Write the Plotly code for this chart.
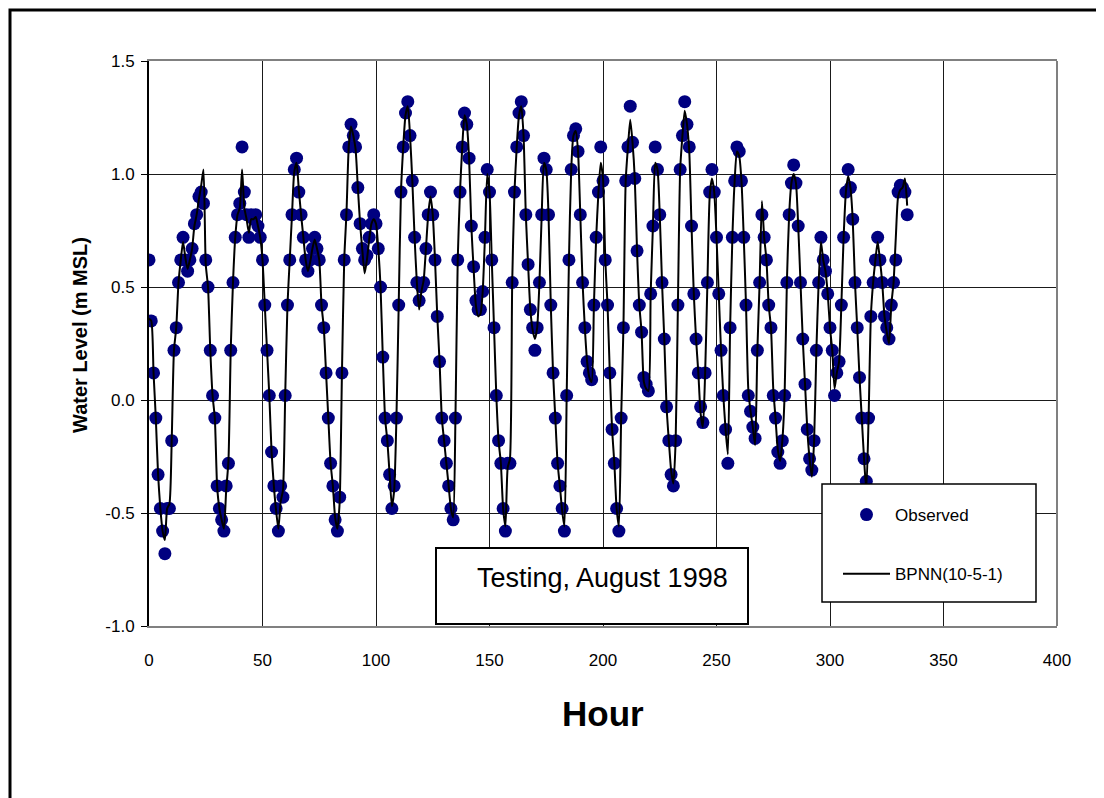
import plotly.graph_objects as go

# ---------------- data ----------------
hours = list(range(0, 335))

observed = [
    0.62, 0.35, 0.12, -0.08, -0.33, -0.48, -0.58, -0.68, -0.48, -0.48,
    -0.18, 0.22, 0.32, 0.52, 0.62, 0.72, 0.62, 0.57, 0.62, 0.67,
    0.78, 0.82, 0.90, 0.92, 0.87, 0.62, 0.50, 0.22, 0.02, -0.08,
    -0.38, -0.48, -0.53, -0.58, -0.38, -0.28, 0.22, 0.52, 0.72, 0.82,
    0.87, 1.12, 0.92, 0.82, 0.72, 0.82, 0.80, 0.82, 0.77, 0.72,
    0.62, 0.42, 0.22, 0.02, -0.23, -0.38, -0.48, -0.58, -0.38, -0.43,
    0.02, 0.42, 0.62, 0.82, 1.02, 1.07, 0.92, 0.82, 0.72, 0.62,
    0.57, 0.62, 0.67, 0.72, 0.67, 0.62, 0.42, 0.32, 0.12, -0.08,
    -0.28, -0.38, -0.53, -0.58, -0.43, 0.12, 0.62, 0.82, 1.12, 1.22,
    1.17, 1.12, 0.94, 0.78, 0.67, 0.62, 0.64, 0.72, 0.78, 0.82,
    0.78, 0.67, 0.50, 0.19, -0.08, -0.18, -0.33, -0.48, -0.38, -0.08,
    0.42, 0.92, 1.12, 1.27, 1.32, 1.17, 0.97, 0.72, 0.52, 0.44,
    0.50, 0.52, 0.67, 0.82, 0.92, 0.82, 0.62, 0.37, 0.17, -0.08,
    -0.18, -0.28, -0.38, -0.48, -0.53, -0.08, 0.62, 0.92, 1.12, 1.27,
    1.22, 1.07, 0.77, 0.59, 0.44, 0.40, 0.40, 0.48, 0.72, 1.02,
    0.92, 0.62, 0.32, 0.02, -0.18, -0.28, -0.48, -0.58, -0.28, -0.28,
    0.52, 0.92, 1.12, 1.27, 1.32, 1.17, 0.82, 0.60, 0.40, 0.32,
    0.22, 0.32, 0.52, 0.82, 1.07, 1.02, 0.82, 0.42, 0.12, -0.08,
    -0.28, -0.38, -0.48, -0.58, 0.02, 0.62, 1.02, 1.17, 1.20, 1.10,
    0.82, 0.52, 0.32, 0.17, 0.12, 0.09, 0.42, 0.72, 0.92, 1.12,
    0.97, 0.62, 0.42, 0.12, -0.13, -0.28, -0.48, -0.58, -0.08, 0.32,
    0.97, 1.12, 1.30, 1.14, 0.98, 0.66, 0.42, 0.30, 0.10, 0.07,
    0.04, 0.47, 0.77, 1.12, 1.02, 0.82, 0.52, 0.27, -0.03, -0.18,
    -0.33, -0.38, -0.18, 0.42, 1.02, 1.17, 1.32, 1.22, 1.12, 0.77,
    0.47, 0.27, 0.12, -0.03, -0.10, 0.12, 0.52, 0.92, 1.02, 0.92,
    0.72, 0.47, 0.22, 0.02, -0.13, -0.28, 0.32, 0.72, 0.97, 1.12,
    1.10, 0.97, 0.72, 0.42, 0.02, -0.05, -0.12, -0.17, 0.22, 0.52,
    0.82, 0.72, 0.62, 0.42, 0.32, 0.02, -0.08, -0.23, -0.28, -0.18,
    0.02, 0.52, 0.82, 0.96, 1.04, 0.96, 0.77, 0.52, 0.27, 0.07,
    -0.13, -0.26, -0.31, -0.18, 0.22, 0.52, 0.72, 0.62, 0.57, 0.47,
    0.32, 0.22, 0.02, 0.12, 0.17, 0.42, 0.72, 0.92, 1.02, 0.94,
    0.80, 0.52, 0.32, 0.10, -0.08, -0.26, -0.36, -0.08, 0.37, 0.52,
    0.62, 0.72, 0.62, 0.52, 0.37, 0.32, 0.27, 0.42, 0.52, 0.62,
    0.92, 0.95, 0.94, 0.92, 0.82,
]

bpnn = [
    0.36, 0.35, 0.12, -0.08, -0.33, -0.48, -0.58, -0.62, -0.48, -0.46,
    -0.18, 0.22, 0.32, 0.52, 0.62, 0.70, 0.63, 0.58, 0.62, 0.67,
    0.77, 0.82, 0.89, 0.95, 1.02, 0.60, 0.50, 0.22, 0.02, -0.08,
    -0.38, -0.48, -0.53, -0.57, -0.40, -0.27, 0.22, 0.52, 0.72, 0.82,
    0.85, 1.02, 0.85, 0.80, 0.74, 0.80, 0.80, 0.81, 0.77, 0.72,
    0.62, 0.42, 0.22, 0.02, -0.23, -0.38, -0.49, -0.57, -0.45, -0.40,
    0.02, 0.42, 0.62, 0.82, 1.01, 1.05, 0.93, 0.82, 0.72, 0.62,
    0.57, 0.61, 0.67, 0.71, 0.67, 0.62, 0.42, 0.32, 0.12, -0.08,
    -0.28, -0.38, -0.52, -0.57, -0.45, 0.12, 0.62, 0.83, 1.12, 1.21,
    1.17, 1.11, 0.94, 0.78, 0.66, 0.56, 0.62, 0.71, 0.78, 0.80,
    0.78, 0.67, 0.50, 0.19, -0.08, -0.18, -0.33, -0.47, -0.40, -0.08,
    0.42, 0.92, 1.12, 1.26, 1.30, 1.17, 0.97, 0.72, 0.52, 0.40,
    0.48, 0.53, 0.67, 0.82, 0.90, 0.82, 0.62, 0.37, 0.17, -0.08,
    -0.18, -0.28, -0.38, -0.48, -0.52, -0.08, 0.62, 0.92, 1.12, 1.26,
    1.22, 1.07, 0.77, 0.58, 0.42, 0.37, 0.38, 0.48, 0.72, 1.00,
    0.92, 0.62, 0.32, 0.02, -0.18, -0.28, -0.48, -0.56, -0.30, -0.26,
    0.52, 0.92, 1.12, 1.26, 1.30, 1.17, 0.82, 0.60, 0.40, 0.31,
    0.27, 0.32, 0.52, 0.82, 1.05, 1.02, 0.82, 0.42, 0.12, -0.08,
    -0.28, -0.38, -0.49, -0.56, 0.02, 0.62, 1.02, 1.17, 1.19, 1.10,
    0.82, 0.52, 0.32, 0.17, 0.10, 0.08, 0.42, 0.72, 0.92, 1.05,
    0.98, 0.62, 0.42, 0.12, -0.13, -0.28, -0.48, -0.56, -0.08, 0.32,
    0.97, 1.12, 1.24, 1.14, 0.98, 0.66, 0.42, 0.30, 0.08, 0.05,
    0.04, 0.47, 0.77, 1.05, 1.02, 0.82, 0.52, 0.27, -0.03, -0.18,
    -0.31, -0.37, -0.18, 0.42, 1.02, 1.17, 1.28, 1.22, 1.10, 0.77,
    0.47, 0.27, 0.12, -0.06, -0.12, 0.12, 0.52, 0.90, 0.98, 0.92,
    0.72, 0.47, 0.22, 0.02, -0.13, -0.24, 0.32, 0.72, 0.97, 1.10,
    1.08, 0.97, 0.72, 0.42, 0.05, -0.05, -0.12, -0.20, 0.22, 0.52,
    0.88, 0.72, 0.62, 0.42, 0.32, 0.05, -0.08, -0.22, -0.27, -0.18,
    0.02, 0.52, 0.82, 0.96, 1.00, 0.96, 0.77, 0.52, 0.27, 0.07,
    -0.13, -0.26, -0.34, -0.18, 0.22, 0.52, 0.70, 0.62, 0.57, 0.47,
    0.32, 0.22, 0.05, 0.12, 0.17, 0.42, 0.72, 0.92, 0.99, 0.94,
    0.80, 0.52, 0.32, 0.10, -0.08, -0.26, -0.40, -0.08, 0.37, 0.52,
    0.62, 0.70, 0.62, 0.52, 0.37, 0.30, 0.25, 0.42, 0.52, 0.72,
    0.90, 0.93, 0.94, 0.98, 0.86,
]

x_ticks = [0, 50, 100, 150, 200, 250, 300, 350, 400]
y_ticks = [-1.0, -0.5, 0.0, 0.5, 1.0, 1.5]
y_tick_labels = ["-1.0", "-0.5", "0.0", "0.5", "1.0", "1.5"]

x_title = "Hour"
y_title = "Water Level (m MSL)"
note_text = "Testing, August 1998"

# ---------------- figure ----------------
FONT = "Arial, Liberation Sans, Helvetica, sans-serif"
W, H = 1104, 798
OFF = 8  # page body margin of the html page
L, R, T, B = 149, 1057, 61, 626   # plot area in page pixels
pw, ph = R - L, B - T


def px(x):
    return (x - L) / pw


def py(y):
    return (B - y) / ph


fig = go.Figure()
fig.add_trace(go.Scatter(
    x=hours, y=observed, mode="markers", name="Observed",
    legendgroup="obs",
    marker=dict(size=13, color="#000080", line=dict(width=0)),
))
fig.add_trace(go.Scatter(
    x=hours, y=bpnn, mode="lines", name="BPNN(10-5-1)",
    legendgroup="model",
    line=dict(color="black", width=2, shape="spline", smoothing=0.6),
))

shapes = [
    dict(type="line", xref="paper", yref="paper", x0=1, x1=1, y0=0, y1=1,
         line=dict(color="#808080", width=2), layer="above"),
    dict(type="rect", xref="paper", yref="paper",
         x0=px(10), x1=px(1099), y0=py(820), y1=py(10),
         line=dict(color="black", width=3), fillcolor="rgba(0,0,0,0)",
         layer="above"),
    dict(type="rect", xref="paper", yref="paper",
         x0=px(822), x1=px(1036), y0=py(602), y1=py(484),
         line=dict(color="black", width=1.5), fillcolor="white",
         layer="above"),
    dict(type="rect", xref="paper", yref="paper",
         x0=px(436), x1=px(748), y0=py(624), y1=py(548),
         line=dict(color="black", width=2), fillcolor="white",
         layer="above"),
]

annotations = [
    dict(text=f"<b>{y_title}</b>", xref="paper", yref="paper",
         x=px(80), y=py(335), textangle=-90, showarrow=False,
         font=dict(family=FONT, size=20, color="black"),
         xanchor="center", yanchor="middle"),
    dict(text=f"<b>{x_title}</b>", xref="paper", yref="paper",
         x=px(603), y=py(714), showarrow=False,
         font=dict(family=FONT, size=35, color="black"),
         xanchor="center", yanchor="middle"),
    dict(text=note_text, xref="paper", yref="paper",
         x=px(602), y=py(578), showarrow=False,
         font=dict(family=FONT, size=27, color="black"),
         xanchor="center", yanchor="middle"),
]

fig.update_layout(
    width=W, height=H,
    margin=dict(l=L - OFF, r=W + OFF - R, t=T - OFF, b=H + OFF - B, pad=0),
    paper_bgcolor="white", plot_bgcolor="white",
    font=dict(family=FONT, size=17, color="black"),
    showlegend=True,
    legend=dict(
        x=px(838), y=py(497), xanchor="left", yanchor="top",
        bgcolor="rgba(0,0,0,0)", borderwidth=0,
        font=dict(family=FONT, size=17, color="black"),
        traceorder="grouped", tracegroupgap=34, itemwidth=47,
    ),
    shapes=shapes,
    annotations=annotations,
    xaxis=dict(
        range=[0, 400], tickvals=x_ticks, ticks="",
        showgrid=True, gridcolor="#1a1a1a", gridwidth=1,
        zeroline=False, showline=True, linecolor="#808080", linewidth=2,
        mirror=True, ticklabelstandoff=18,
        tickfont=dict(family=FONT, size=17, color="black"),
    ),
    yaxis=dict(
        range=[-1.0, 1.5], tickvals=y_ticks, ticktext=y_tick_labels,
        ticks="outside", ticklen=6, tickcolor="black", tickwidth=1,
        showgrid=True, gridcolor="#1a1a1a", gridwidth=1,
        zeroline=False, showline=True, linecolor="black", linewidth=2,
        ticklabelstandoff=3,
        tickfont=dict(family=FONT, size=17, color="black"),
    ),
)

fig.write_html("out.html")
